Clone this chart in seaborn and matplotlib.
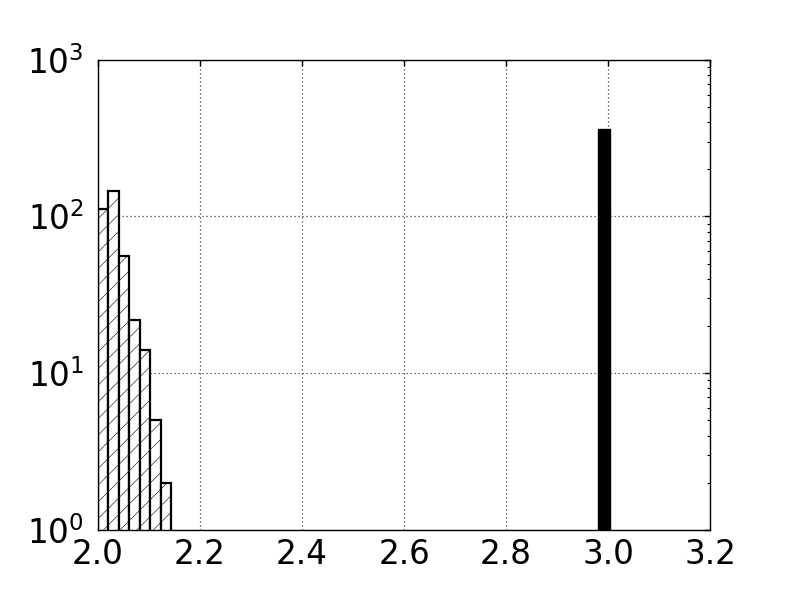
import numpy as np
import seaborn as sns
from matplotlib import pyplot as plt

# hatched histogram near 2.0 (bin edges + counts)
small_edges = [2.0, 2.0205, 2.041, 2.0615, 2.082, 2.1025, 2.123, 2.1435]
small_counts = [112, 145, 56, 22, 14, 5, 2]

# single solid bar close to 3.0
big_edges = [2.980, 3.0045]
big_counts = [360]

x_ticks = [2.0, 2.2, 2.4, 2.6, 2.8, 3.0, 3.2]

sns.set_style("white")
plt.rcParams["font.family"] = ["DejaVu Sans"]
plt.rcParams["hatch.linewidth"] = 0.4
for key in ["text.color", "xtick.color", "ytick.color", "axes.labelcolor", "axes.edgecolor"]:
    plt.rcParams[key] = "black"

fig = plt.figure(figsize=(7.89, 5.92), dpi=100)
ax = fig.add_axes([0.124, 0.105, 0.776, 0.794])

small_centers = [(a + b) / 2 for a, b in zip(small_edges[:-1], small_edges[1:])]
big_centers = [(a + b) / 2 for a, b in zip(big_edges[:-1], big_edges[1:])]

sns.histplot(x=small_centers, weights=small_counts, bins=small_edges, ax=ax,
             stat="count", element="bars", fill=True, color="white",
             edgecolor="black", linewidth=1.6, hatch="//", alpha=1)
sns.histplot(x=big_centers, weights=big_counts, bins=big_edges, ax=ax,
             stat="count", element="bars", fill=True, color="black",
             edgecolor="black", linewidth=1.0, alpha=1)

ax.set_yscale("log")
ax.set_ylim(1, 1000)
# tiny margin so the first bar is not dropped by clipping at the left edge
ax.set_xlim(1.9998, 3.2)
ax.set_xticks(x_ticks)
ax.set_xticklabels([f"{t:.1f}" for t in x_ticks])
ax.set_xlabel("")
ax.set_ylabel("")

ax.grid(True, which="major", linestyle=(0, (1, 2.2)), color="0.25", linewidth=0.9)
for s in ax.spines.values():
    s.set_linewidth(1.0)

ax.tick_params(which="both", top=True, right=True, direction="in")
ax.tick_params(which="major", length=4, width=1, labelsize=23.5)
ax.tick_params(axis="x", which="major", pad=6)
ax.tick_params(axis="y", which="major", pad=10)
ax.tick_params(which="minor", length=2, width=0.8)

plt.savefig("out.png", dpi=100)
